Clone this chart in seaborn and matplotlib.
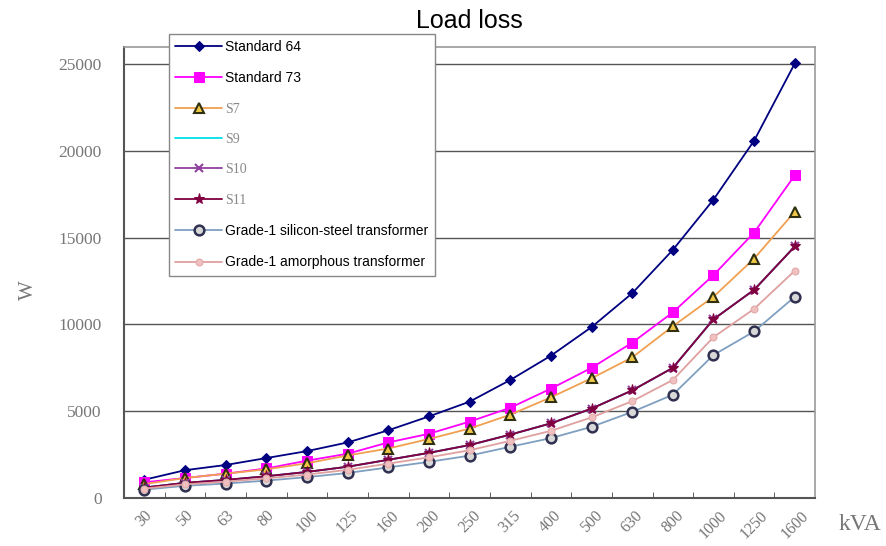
import pandas as pd
import seaborn as sns
import matplotlib.pyplot as plt

kva = ['30', '50', '63', '80', '100', '125', '160', '200', '250', '315',
       '400', '500', '630', '800', '1000', '1250', '1600']

standard_64 = [1050, 1600, 1900, 2300, 2700, 3200, 3900, 4700, 5550, 6800,
               8200, 9850, 11800, 14300, 17200, 20600, 25050]
standard_73 = [900, 1150, 1400, 1700, 2150, 2550, 3200, 3700, 4400, 5200,
               6300, 7500, 8950, 10700, 12850, 15300, 18600]
s7 = [800, 1150, 1400, 1650, 2000, 2450, 2850, 3400, 4000, 4800,
      5800, 6900, 8100, 9900, 11600, 13800, 16500]
s9 = [600, 870, 1040, 1250, 1500, 1800, 2200, 2600, 3050, 3650,
      4300, 5150, 6200, 7500, 10300, 12000, 14500]
s10 = [600, 870, 1040, 1250, 1500, 1800, 2200, 2600, 3050, 3650,
       4300, 5150, 6200, 7500, 10300, 12000, 14500]
s11 = [600, 870, 1040, 1250, 1500, 1800, 2200, 2600, 3050, 3650,
       4300, 5150, 6200, 7500, 10300, 12000, 14500]
grade1_si = [480, 700, 830, 1000, 1200, 1440, 1760, 2080, 2440, 2950,
             3450, 4100, 4960, 5950, 8240, 9600, 11600]
grade1_amorphous = [540, 780, 940, 1130, 1350, 1620, 1980, 2340, 2750, 3290,
                    3870, 4640, 5580, 6800, 9270, 10900, 13100]

series = [
    ('Standard 64', standard_64, dict(color='#000080', marker='D', ms=5, mfc='#000080', mec='#000080')),
    ('Standard 73', standard_73, dict(color='#FF00FF', marker='s', ms=7, mfc='#FF00FF', mec='#FF00FF')),
    ('S7', s7, dict(color='#F0A050', marker='^', ms=7, mfc='#F0C848', mec='#303010', mew=1.5)),
    ('S9', s9, dict(color='#00E0E8', marker=None)),
    ('S10', s10, dict(color='#9040A0', marker='x', ms=6, mfc='#9040A0', mec='#9040A0', mew=1.5)),
    ('S11', s11, dict(color='#800040', marker='*', ms=8, mfc='#800040', mec='#800040')),
    ('Grade-1 silicon-steel transformer', grade1_si,
     dict(color='#7F9FC0', marker='o', ms=7, mfc='#D8D8D8', mec='#303050', mew=1.8)),
    ('Grade-1 amorphous transformer', grade1_amorphous,
     dict(color='#E0A0A0', marker='o', ms=5, mfc='#F0C0C0', mec='#E0A8A8')),
]

sns.set_style('white')
fig = plt.figure(figsize=(8.86, 5.46), dpi=100)
ax = fig.add_axes([0.140, 0.088, 0.780, 0.826])

for name, vals, kw in series:
    sns.lineplot(x=kva, y=vals, ax=ax, label=name, sort=False, lw=1.3, **kw)

ax.set_xlim(-0.5, len(kva) - 0.5)
ax.set_ylim(0, 26000)
ax.set_yticks([0, 5000, 10000, 15000, 20000, 25000])
ax.yaxis.grid(True, color='#555555', lw=1)
ax.set_axisbelow(True)

# tick marks sit between the categories, pointing inward
ax.set_xticks([i + 0.5 for i in range(len(kva) - 1)], minor=True)
ax.tick_params(axis='x', which='minor', direction='in', length=4, color='#444444', bottom=True)
ax.tick_params(axis='x', which='major', length=0, pad=7)
ax.tick_params(axis='y', length=0, pad=16)

for lab in ax.get_xticklabels():
    lab.set_rotation(45)
    lab.set_ha('center')
    lab.set_fontfamily('Liberation Serif')
    lab.set_fontsize(11.5)
    lab.set_color('#777777')
for lab in ax.get_yticklabels():
    lab.set_fontfamily('Liberation Serif')
    lab.set_fontsize(12.5)
    lab.set_color('#777777')

for side in ['left', 'bottom']:
    ax.spines[side].set_color('#555555')
    ax.spines[side].set_linewidth(1.5)
for side in ['top', 'right']:
    ax.spines[side].set_color('#999999')
    ax.spines[side].set_linewidth(1.2)

ax.set_title('Load loss', fontsize=18, fontfamily='Liberation Sans', color='black', pad=14)
ax.set_ylabel('W', fontsize=15, fontfamily='Liberation Serif', color='#777777')
ax.yaxis.set_label_coords(-0.125, 0.46)
ax.set_xlabel('kVA', fontsize=17, fontfamily='Liberation Serif', color='#777777')
ax.xaxis.set_label_coords(1.065, -0.035)

leg = ax.legend(loc='upper left', bbox_to_anchor=(0.055, 1.045), fontsize=10,
                labelspacing=1.25, handlelength=3.4, handletextpad=0.2,
                borderpad=0.45, fancybox=False, framealpha=1, edgecolor='#888888',
                prop={'family': 'Liberation Sans', 'size': 10})
for txt in leg.get_texts():
    txt.set_color('black')
    if txt.get_text().startswith('S') and not txt.get_text().startswith('Standard'):
        txt.set_fontfamily('Liberation Serif')
        txt.set_color('#888888')

fig.savefig('out.png', dpi=100)
